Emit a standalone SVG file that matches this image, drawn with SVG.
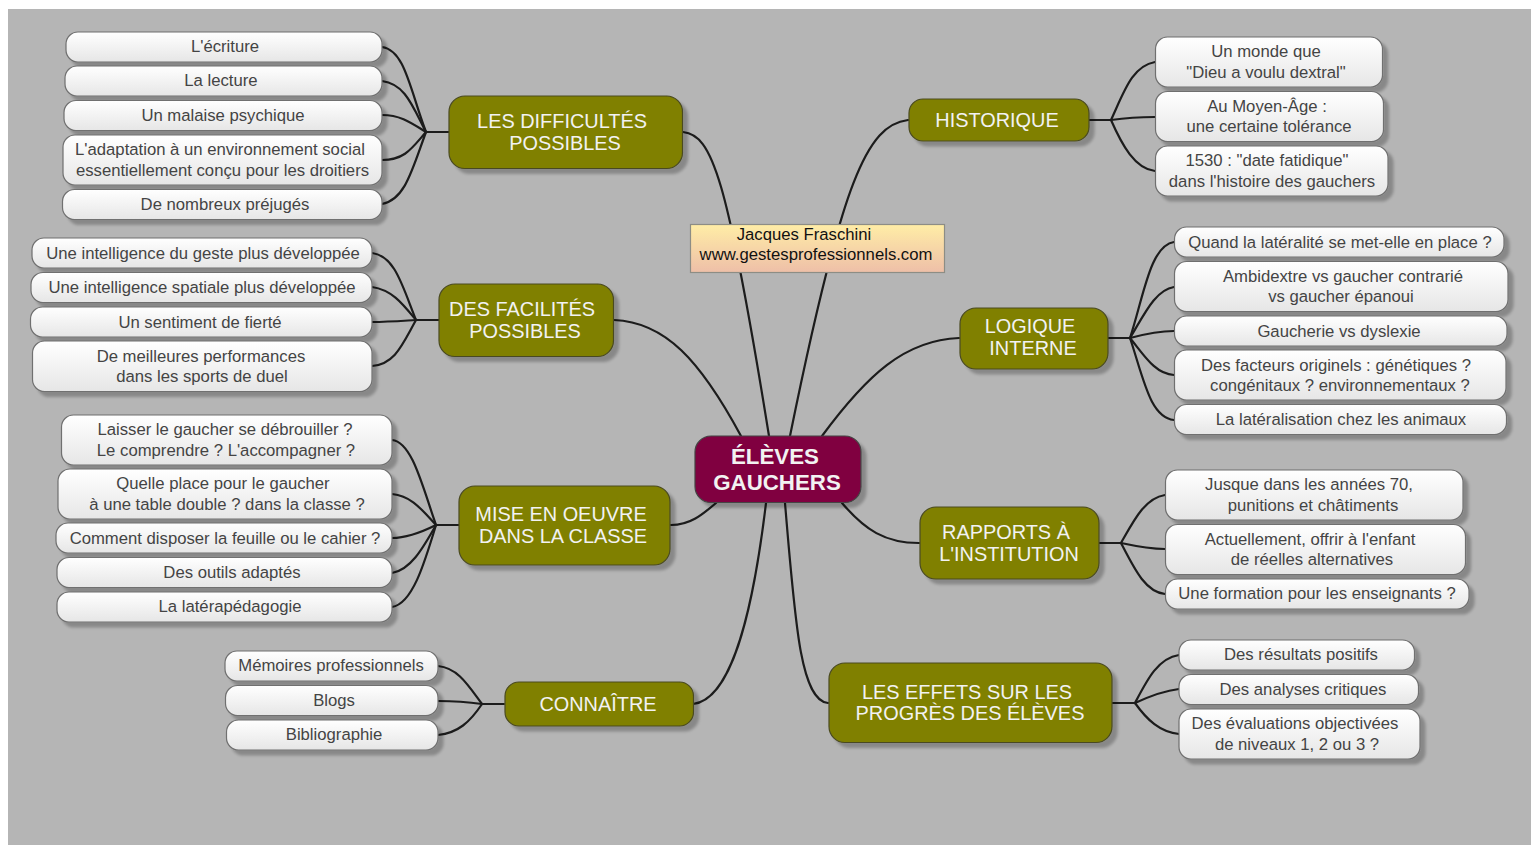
<svg xmlns="http://www.w3.org/2000/svg" width="1531" height="845" viewBox="0 0 1531 845">
<style>
text{font-family:"Liberation Sans",Arial,sans-serif;text-anchor:middle}
.leaf rect{fill:url(#lg);stroke:#6f6f6f;stroke-width:1.2;filter:url(#sh)}
.leaf text{font-size:16.7px;fill:#444}
.main rect{fill:#808000;stroke:#4a4a20;stroke-width:1.2;filter:url(#sh)}
.main text{font-size:19.9px;fill:#f2f2f2}
#connectors path{fill:none;stroke:#1c1c1c;stroke-width:2.2;stroke-linecap:round}
</style>
<defs>
<linearGradient id="lg" x1="0" y1="0" x2="0" y2="1"><stop offset="0" stop-color="#fff"/><stop offset="1" stop-color="#e6e6e6"/></linearGradient>
<linearGradient id="ng" x1="0" y1="0" x2="0" y2="1"><stop offset="0" stop-color="#ffeda6"/><stop offset="1" stop-color="#eebfa8"/></linearGradient>
<filter id="sh" x="-10%" y="-30%" width="125%" height="170%"><feGaussianBlur in="SourceAlpha" stdDeviation="1.8"/><feOffset dx="5" dy="5"/><feComponentTransfer><feFuncA type="linear" slope="0.25"/></feComponentTransfer><feMerge><feMergeNode/><feMergeNode in="SourceGraphic"/></feMerge></filter>
</defs>
<rect x="0" y="0" width="1531" height="845" fill="#fff"/>
<rect x="8" y="9" width="1523" height="836" fill="#b5b5b5"/>
<g id="connectors">
<path d="M683 132C712 135 727 175 769 436"/>
<path d="M908 120C867 125 842 180 790 436"/>
<path d="M614 320C665 322 700 360 741 436"/>
<path d="M959 338C905 340 867 375 822 436"/>
<path d="M671 525C690 525 702 515 716 503"/>
<path d="M919 543C885 543 865 530 842 503"/>
<path d="M693 704C730 700 752 620 766 503"/>
<path d="M828 703C800 700 795 620 785 503"/>
<path d="M449 132H426"/><path d="M382 47C405 50 410 90 426 132"/><path d="M382 81C405 84 412 105 426 132"/><path d="M382 115C400 115 410 122 426 132"/><path d="M382 160C405 160 412 148 426 132"/><path d="M382 204C405 200 412 170 426 132"/>
<path d="M439 320H416"/><path d="M372 253C395 256 402 285 416 320"/><path d="M372 287C392 290 402 303 416 320"/><path d="M372 322C388 322 400 321 416 320"/><path d="M372 366C395 364 402 345 416 320"/>
<path d="M459 525H436"/><path d="M392 440C412 442 422 485 436 525"/><path d="M392 494C412 496 422 510 436 525"/><path d="M392 538C405 538 420 533 436 525"/><path d="M392 573C410 570 422 550 436 525"/><path d="M392 607C412 604 424 565 436 525"/>
<path d="M504 704H482"/><path d="M438 666C458 668 468 685 482 704"/><path d="M438 701C455 701 468 702 482 704"/><path d="M438 735C458 733 470 722 482 704"/>
<path d="M1089 120H1111"/><path d="M1155 62C1132 66 1124 92 1111 120"/><path d="M1155 117C1140 117 1125 118 1111 120"/><path d="M1155 171C1135 169 1122 145 1111 120"/>
<path d="M1108 338H1130"/><path d="M1174 242C1150 246 1144 295 1130 338"/><path d="M1174 287C1155 290 1144 315 1130 338"/><path d="M1174 331C1160 331 1145 334 1130 338"/><path d="M1174 375C1155 374 1144 355 1130 338"/><path d="M1174 420C1150 417 1144 380 1130 338"/>
<path d="M1099 543H1121"/><path d="M1165 495C1145 498 1134 520 1121 543"/><path d="M1165 549C1150 549 1135 546 1121 543"/><path d="M1165 594C1145 592 1134 568 1121 543"/>
<path d="M1112 703H1135"/><path d="M1179 655C1158 658 1147 680 1135 703"/><path d="M1179 689C1162 691 1148 697 1135 703"/><path d="M1179 734C1160 732 1147 720 1135 703"/>
</g>
<g id="note"><rect x="690.500" y="224.500" width="254" height="48" fill="url(#ng)" stroke="#8d8d85" stroke-width="1.200"/><text x="804" y="239.500" font-size="16.700" fill="#111">Jacques Fraschini</text><text x="816" y="260" font-size="16.700" fill="#111">www.gestesprofessionnels.com</text></g>
<g id="center"><rect x="695" y="436" width="166" height="66.500" rx="16" fill="#800040" stroke="#444" stroke-width="1.200" filter="url(#sh)"/><text x="775" y="464" font-size="22.300px" font-weight="700" fill="#f2f2f2">ÉLÈVES</text><text x="777" y="489.500" font-size="22.300px" font-weight="700" fill="#f2f2f2">GAUCHERS</text></g>
<g id="m1" class="main"><rect x="449" y="96" width="233.500" height="72.500" rx="16"/><text x="562" y="128">LES DIFFICULTÉS</text><text x="565" y="150">POSSIBLES</text></g>
<g id="m2" class="main"><rect x="439" y="284" width="174.500" height="72.500" rx="16"/><text x="522" y="315.500">DES FACILITÉS</text><text x="525" y="338">POSSIBLES</text></g>
<g id="m3" class="main"><rect x="459" y="486" width="211" height="79" rx="16"/><text x="561" y="521">MISE EN OEUVRE</text><text x="563" y="543">DANS LA CLASSE</text></g>
<g id="m4" class="main"><rect x="505" y="682" width="188.500" height="44" rx="14"/><text x="598" y="711">CONNAÎTRE</text></g>
<g id="m5" class="main"><rect x="909" y="99" width="180" height="42" rx="14"/><text x="997" y="127">HISTORIQUE</text></g>
<g id="m6" class="main"><rect x="960" y="308" width="148" height="61" rx="16"/><text x="1030" y="333">LOGIQUE</text><text x="1033" y="355">INTERNE</text></g>
<g id="m7" class="main"><rect x="920" y="507" width="179" height="72" rx="16"/><text x="1006" y="538.500">RAPPORTS À</text><text x="1009" y="561">L'INSTITUTION</text></g>
<g id="m8" class="main"><rect x="829" y="663" width="283" height="79.500" rx="16"/><text x="967" y="698.500">LES EFFETS SUR LES</text><text x="970" y="720">PROGRÈS DES ÉLÈVES</text></g>
<g id="l1" class="leaf"><rect x="66" y="32" width="316" height="30" rx="12"/><text x="225" y="52">L'écriture</text></g>
<g id="l2" class="leaf"><rect x="65" y="66" width="317" height="30" rx="12"/><text x="221" y="86">La lecture</text></g>
<g id="l3" class="leaf"><rect x="64" y="100.500" width="318" height="30" rx="12"/><text x="223" y="121">Un malaise psychique</text></g>
<g id="l4" class="leaf"><rect x="63" y="135" width="319" height="50" rx="12"/><text x="220" y="155">L'adaptation à un environnement social</text><text x="222.500" y="175.500">essentiellement conçu pour les droitiers</text></g>
<g id="l5" class="leaf"><rect x="62.500" y="189.500" width="319.500" height="30" rx="12"/><text x="225" y="209.500">De nombreux préjugés</text></g>
<g id="l6" class="leaf"><rect x="32" y="238" width="340" height="30" rx="12"/><text x="203" y="258.500">Une intelligence du geste plus développée</text></g>
<g id="l7" class="leaf"><rect x="31" y="272.500" width="341" height="30" rx="12"/><text x="202" y="293">Une intelligence spatiale plus développée</text></g>
<g id="l8" class="leaf"><rect x="30.500" y="307" width="341.500" height="30" rx="12"/><text x="200" y="327.500">Un sentiment de fierté</text></g>
<g id="l9" class="leaf"><rect x="32.500" y="341" width="339.500" height="50.500" rx="12"/><text x="201" y="361.500">De meilleures performances</text><text x="202" y="382">dans les sports de duel</text></g>
<g id="l10" class="leaf"><rect x="61.500" y="415" width="330.500" height="50" rx="12"/><text x="225" y="435">Laisser le gaucher se débrouiller ?</text><text x="226" y="455.500">Le comprendre ? L'accompagner ?</text></g>
<g id="l11" class="leaf"><rect x="58" y="469" width="334" height="50" rx="12"/><text x="223" y="489">Quelle place pour le gaucher</text><text x="227" y="509.500">à une table double ? dans la classe ?</text></g>
<g id="l12" class="leaf"><rect x="56" y="523" width="336" height="30" rx="12"/><text x="225" y="543.500">Comment disposer la feuille ou le cahier ?</text></g>
<g id="l13" class="leaf"><rect x="57" y="557.500" width="335" height="30" rx="12"/><text x="232" y="578">Des outils adaptés</text></g>
<g id="l14" class="leaf"><rect x="57" y="592" width="335" height="30" rx="12"/><text x="230" y="612">La latérapédagogie</text></g>
<g id="l15" class="leaf"><rect x="225" y="651" width="213" height="30" rx="12"/><text x="331" y="671">Mémoires professionnels</text></g>
<g id="l16" class="leaf"><rect x="225.500" y="685.500" width="212.500" height="30" rx="12"/><text x="334" y="706">Blogs</text></g>
<g id="l17" class="leaf"><rect x="226.500" y="720" width="211.500" height="30" rx="12"/><text x="334" y="740">Bibliographie</text></g>
<g id="r1" class="leaf"><rect x="1155.500" y="37" width="227" height="50" rx="12"/><text x="1266" y="57">Un monde que</text><text x="1266" y="77.500">"Dieu a voulu dextral"</text></g>
<g id="r2" class="leaf"><rect x="1155.500" y="91.500" width="228" height="50" rx="12"/><text x="1267" y="111.500">Au Moyen-Âge :</text><text x="1269" y="132">une certaine tolérance</text></g>
<g id="r3" class="leaf"><rect x="1155.500" y="146" width="232.500" height="50" rx="12"/><text x="1267" y="166">1530 : "date fatidique"</text><text x="1272" y="186.500">dans l'histoire des gauchers</text></g>
<g id="r4" class="leaf"><rect x="1174.500" y="227" width="329.500" height="30" rx="12"/><text x="1340" y="247.500">Quand la latéralité se met-elle en place ?</text></g>
<g id="r5" class="leaf"><rect x="1174.500" y="261.500" width="333.500" height="50" rx="12"/><text x="1343" y="281.500">Ambidextre vs gaucher contrarié</text><text x="1341" y="301.500">vs gaucher épanoui</text></g>
<g id="r6" class="leaf"><rect x="1174.500" y="316" width="332.500" height="30" rx="12"/><text x="1339" y="336.500">Gaucherie vs dyslexie</text></g>
<g id="r7" class="leaf"><rect x="1174.500" y="350" width="331.500" height="50" rx="12"/><text x="1336" y="370.500">Des facteurs originels : génétiques ?</text><text x="1340" y="391">congénitaux ? environnementaux ?</text></g>
<g id="r8" class="leaf"><rect x="1174.500" y="404.500" width="332" height="30" rx="12"/><text x="1341" y="425">La latéralisation chez les animaux</text></g>
<g id="r9" class="leaf"><rect x="1165.500" y="470" width="297.500" height="50" rx="12"/><text x="1309" y="490">Jusque dans les années 70,</text><text x="1313" y="510.500">punitions et châtiments</text></g>
<g id="r10" class="leaf"><rect x="1165.500" y="524.500" width="300" height="50" rx="12"/><text x="1310" y="544.500">Actuellement, offrir à l'enfant</text><text x="1312" y="565">de réelles alternatives</text></g>
<g id="r11" class="leaf"><rect x="1165.500" y="579" width="303.500" height="30" rx="12"/><text x="1317" y="599">Une formation pour les enseignants ?</text></g>
<g id="r12" class="leaf"><rect x="1179" y="640" width="235.500" height="30" rx="12"/><text x="1301" y="660">Des résultats positifs</text></g>
<g id="r13" class="leaf"><rect x="1179" y="674.500" width="239.500" height="30" rx="12"/><text x="1303" y="695">Des analyses critiques</text></g>
<g id="r14" class="leaf"><rect x="1179" y="709" width="241" height="50" rx="12"/><text x="1295" y="729">Des évaluations objectivées</text><text x="1297" y="749.500">de niveaux 1, 2 ou 3 ?</text></g>
</svg>
